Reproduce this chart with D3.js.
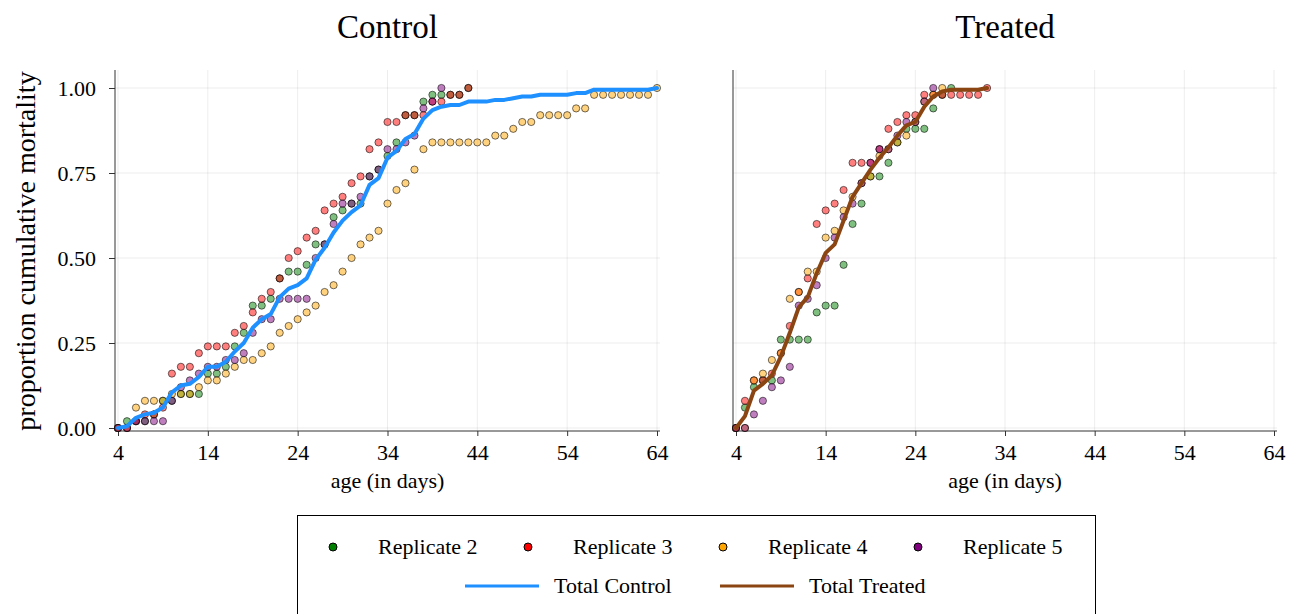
<!DOCTYPE html>
<html>
<head>
<meta charset="utf-8">
<script src="https://cdn.jsdelivr.net/npm/d3@7"></script>
<style>
  html, body { margin: 0; padding: 0; background: #fff; }
  svg { display: block; }
  text { font-family: "Liberation Serif", "Times New Roman", serif; fill: #000; }
</style>
</head>
<body>
<svg id="viz" width="1293" height="614"></svg>
<script>
// cumulative mortality by age, control vs treated
// each replicate array starts at day 4 and has one value per day

const firstDay = 4;
const xTicks = [4, 14, 24, 34, 44, 54, 64];
const yTicks = [0, 0.25, 0.5, 0.75, 1];
const replicateNames = ["Replicate 2", "Replicate 3", "Replicate 4", "Replicate 5"];

// control replicates
const controlRep2 = [0, .02, .02, .02, .04, .08, .08, .10, .10, .10, .16, .16, .18, .24, .28, .36, .36, .38, .44, .46,
  .46, .48, .54, .54, .62, .64, .66, .66, .74, .76, .80, .84, .92, .92, .96, .98, .98, .98, .98, 1.00];
const controlRep3 = [0, 0, .02, .04, .04, .06, .16, .18, .18, .22, .24, .24, .24, .28, .30, .34, .38, .40, .44, .50,
  .52, .56, .58, .64, .66, .68, .72, .74, .82, .84, .90, .90, .92, .92, .92, .96, .96, .98, .98, 1.00];
const controlRep4 = [0, 0, .06, .08, .08, .08, .10, .10, .10, .12, .14, .14, .16, .18, .20, .20, .22, .24, .28, .30,
  .32, .34, .36, .40, .42, .46, .50, .54, .56, .58, .66, .70, .72, .76, .82, .84, .84, .84, .84, .84,
  .84, .84, .86, .86, .88, .90, .90, .92, .92, .92, .92, .94, .94, .98, .98, .98, .98, .98, .98, .98, 1.00];
const controlRep5 = [0, 0, .02, .02, .02, .02, .08, .12, .14, .16, .18, .18, .20, .20, .22, .28, .32, .32, .38, .38,
  .38, .38, .50, .54, .60, .66, .66, .68, .74, .76, .82, .82, .84, .86, .94, .96, 1.00];
const controlTotal = [0, .005, .03, .04, .045, .06, .105, .125, .13, .15, .18, .18, .195, .225, .25, .295, .32, .335, .385, .41,
  .42, .44, .495, .53, .575, .61, .635, .655, .715, .735, .795, .815, .85, .865, .91, .935, .945, .95, .95, .96,
  .96, .96, .965, .965, .97, .975, .975, .98, .98, .98, .98, .985, .985, .995, .995, .995, .995, .995, .995, .995, 1.00];

// treated replicates
const treatedRep2 = [0, .06, .12, .14, .14, .26, .26, .26, .26, .34, .36, .36, .48, .60, .66, .74, .74, .78, .84, .88,
  .88, .88, .94, .98, 1.00];
const treatedRep3 = [0, .08, .14, .14, .16, .22, .30, .40, .44, .60, .64, .66, .70, .78, .78, .78, .82, .88, .90, .92,
  .92, .98, .98, .98, .98, .98, .98, .98, 1.00];
const treatedRep4 = [0, 0, .14, .16, .20, .22, .38, .40, .46, .46, .56, .58, .64, .68, .72, .74, .80, .82, .84, .86,
  .90, .96, .98, 1.00];
const treatedRep5 = [0, 0, .04, .08, .12, .14, .18, .36, .38, .42, .50, .56, .62, .66, .72, .78, .82, .82, .86, .90,
  .90, .96, 1.00];
const treatedTotal = [0, .035, .11, .13, .155, .21, .28, .355, .385, .455, .515, .54, .61, .68, .72, .76, .795, .825, .86, .89,
  .90, .945, .975, .99, .995, .995, .995, .995, 1.00];

const repColors = ["#008000", "#ff0000", "#ffa500", "#800080"];
const controlColor = "#1e90ff";
const treatedColor = "#8b4513";

// turn a per-day array into {day, v} points
function toPoints(arr) {
  return arr.map((v, i) => ({ day: firstDay + i, v }));
}

const svg = d3.select("#viz");
const yScale = d3.scaleLinear().domain([0, 1]).range([428, 88]);

const panels = [
  { title: "Control", left: 115, right: 660, x0: 118, x1: 657, reps: [controlRep2, controlRep3, controlRep4, controlRep5], total: controlTotal, color: controlColor, yLabels: true },
  { title: "Treated", left: 733, right: 1277, x0: 736, x1: 1274, reps: [treatedRep2, treatedRep3, treatedRep4, treatedRep5], total: treatedTotal, color: treatedColor, yLabels: false },
];
const plotTop = 70;
const plotBottom = 431;

panels.forEach((p) => {
  const x = d3.scaleLinear().domain([4, 64]).range([p.x0, p.x1]);
  const g = svg.append("g");

  // grid
  g.selectAll("line.vgrid").data(xTicks).enter().append("line")
    .attr("x1", (d) => x(d)).attr("x2", (d) => x(d))
    .attr("y1", plotTop).attr("y2", plotBottom)
    .attr("stroke", "#000").attr("stroke-opacity", 0.07);
  g.selectAll("line.hgrid").data(yTicks).enter().append("line")
    .attr("x1", p.left).attr("x2", p.right)
    .attr("y1", (d) => yScale(d)).attr("y2", (d) => yScale(d))
    .attr("stroke", "#000").attr("stroke-opacity", 0.07);

  // x axis
  const xAxis = d3.axisBottom(x).tickValues(xTicks).tickSize(5).tickSizeOuter(0).tickFormat(d3.format("d"));
  const xg = g.append("g").attr("transform", `translate(0,${plotBottom})`).call(xAxis);
  xg.select(".domain").remove();
  xg.selectAll(".tick line").attr("stroke", "#333");
  xg.selectAll(".tick text").attr("font-size", "22px").attr("dy", null).attr("y", 29)
    .style("font-family", "'Liberation Serif', serif").attr("fill", "#000");

  // y axis (ticks only on left panel)
  if (p.yLabels) {
    const yAxis = d3.axisLeft(yScale).tickValues(yTicks).tickSize(6).tickSizeOuter(0).tickFormat(d3.format(".2f"));
    const yg = g.append("g").attr("transform", `translate(${p.left},0)`).call(yAxis);
    yg.select(".domain").remove();
    yg.selectAll(".tick line").attr("stroke", "#333");
    yg.selectAll(".tick text").attr("font-size", "22px").attr("x", -19).attr("dy", "0.33em")
      .style("font-family", "'Liberation Serif', serif").attr("fill", "#000");
  }

  // frame lines: left and bottom
  g.append("line").attr("x1", p.left).attr("x2", p.left).attr("y1", plotTop).attr("y2", plotBottom)
    .attr("stroke", "#333").attr("stroke-width", 1);
  g.append("line").attr("x1", p.left).attr("x2", p.right).attr("y1", plotBottom).attr("y2", plotBottom)
    .attr("stroke", "#333").attr("stroke-width", 1);

  // replicate points
  p.reps.forEach((arr, i) => {
    g.selectAll(null).data(toPoints(arr)).enter().append("circle")
      .attr("cx", (d) => x(d.day)).attr("cy", (d) => yScale(d.v))
      .attr("r", 3.6)
      .attr("fill", repColors[i]).attr("fill-opacity", 0.5)
      .attr("stroke", "#000").attr("stroke-opacity", 0.55).attr("stroke-width", 1);
  });

  // total line
  const line = d3.line().x((d) => x(d.day)).y((d) => yScale(d.v));
  g.append("path").datum(toPoints(p.total))
    .attr("d", line).attr("fill", "none")
    .attr("stroke", p.color).attr("stroke-width", 4)
    .attr("stroke-linejoin", "round").attr("stroke-linecap", "round");

  // title + x label
  svg.append("text").attr("x", (p.left + p.right) / 2).attr("y", 38)
    .attr("text-anchor", "middle").attr("font-size", "33px").text(p.title);
  svg.append("text").attr("x", (p.left + p.right) / 2).attr("y", 488)
    .attr("text-anchor", "middle").attr("font-size", "22px").text("age (in days)");
});

// y label
svg.append("text").attr("transform", "translate(35,251) rotate(-90)")
  .attr("text-anchor", "middle").attr("font-size", "28px").text("proportion cumulative mortality");

// legend
const legend = svg.append("g");
legend.append("rect").attr("x", 297.5).attr("y", 515.5).attr("width", 798).attr("height", 120)
  .attr("fill", "#fff").attr("stroke", "#000").attr("stroke-width", 1);

const repLegendX = [333, 528, 723, 918];
replicateNames.forEach((name, i) => {
  legend.append("circle").attr("cx", repLegendX[i]).attr("cy", 547).attr("r", 4)
    .attr("fill", repColors[i]).attr("stroke", "#000").attr("stroke-width", 1);
  legend.append("text").attr("x", repLegendX[i] + 45).attr("y", 554)
    .attr("font-size", "22px").text(name);
});

const lineLegend = [
  { name: "Total Control", color: controlColor, x: 465 },
  { name: "Total Treated", color: treatedColor, x: 720 },
];
lineLegend.forEach((d) => {
  legend.append("line").attr("x1", d.x).attr("x2", d.x + 74).attr("y1", 586).attr("y2", 586)
    .attr("stroke", d.color).attr("stroke-width", 3);
  legend.append("text").attr("x", d.x + 89).attr("y", 593)
    .attr("font-size", "22px").text(d.name);
});
</script>
</body>
</html>
